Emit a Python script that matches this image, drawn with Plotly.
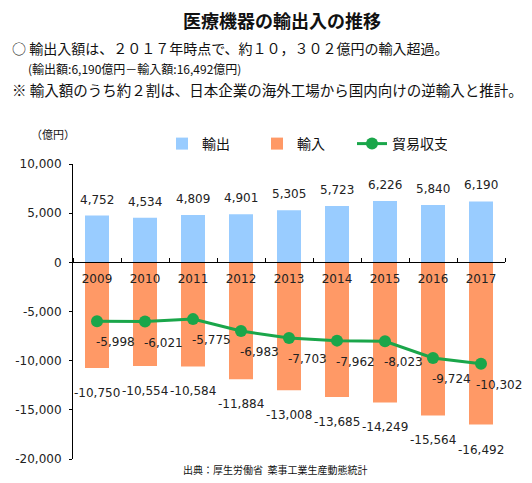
import plotly.graph_objects as go

years = ["2009", "2010", "2011", "2012", "2013", "2014", "2015", "2016", "2017"]
exports = [4752, 4534, 4809, 4901, 5305, 5723, 6226, 5840, 6190]
imports = [-10750, -10554, -10584, -11884, -13008, -13685, -14249, -15564, -16492]
balance = [-5998, -6021, -5775, -6983, -7703, -7962, -8023, -9724, -10302]
y_ticks = [10000, 5000, 0, -5000, -10000, -15000, -20000]

def fmt(v):
    return ("-" if v < 0 else "") + f"{abs(v):,}"

NUM_FONT = "DejaVu Sans"
JP_FONT = "Noto Sans CJK JP"

# page body has an 8px default margin; lay the figure out so it lands on the window
OFF = 8
W, H = 532 - OFF, 483 - OFF
L, R, T, B = 73 - OFF, W - (505 - OFF), 164 - OFF, H - (459 - OFF)
pw, ph = W - L - R, H - T - B

def px(x):  # window pixel -> paper fraction
    return (x - OFF - L) / pw

def py(y):
    return (H - B - (y - OFF)) / ph

xi = list(range(len(years)))
bounds = [i - 0.5 for i in range(len(years) + 1)]

fig = go.Figure()
fig.add_trace(go.Bar(x=xi, y=exports, name="輸出", marker_color="#99CCFF",
                     width=0.5, marker_line_width=0))
fig.add_trace(go.Bar(x=xi, y=imports, name="輸入", marker_color="#FF9966",
                     width=0.5, marker_line_width=0))
fig.add_trace(go.Scatter(x=xi, y=balance, name="貿易収支", mode="lines+markers",
                         line=dict(color="#1AA64A", width=3),
                         marker=dict(color="#1AA64A", size=12)))

ann = []
for i, v in zip(xi, exports):
    ann.append(dict(x=i, y=v, text=fmt(v), showarrow=False, yanchor="bottom",
                    yshift=7, font=dict(family=NUM_FONT, size=12, color="#222")))
for i, v in zip(xi, imports):
    ann.append(dict(x=i, y=v, text=fmt(v), showarrow=False, yanchor="middle",
                    yshift=-25, font=dict(family=NUM_FONT, size=12, color="#222")))
for i, v in zip(xi, balance):
    ann.append(dict(x=i, y=v, text=fmt(v), showarrow=False, yanchor="middle",
                    xshift=18, yshift=-21, font=dict(family=NUM_FONT, size=12, color="#222")))

# header texts
ann.append(dict(xref="paper", yref="paper", x=px(10), y=py(48), xanchor="left", yanchor="middle",
                text="○ 輸出入額は、２０１７年時点で、約１０，３０２億円の輸入超過。",
                showarrow=False, font=dict(family=JP_FONT, size=14, color="#111")))
ann.append(dict(xref="paper", yref="paper", x=px(26), y=py(69), xanchor="left", yanchor="middle",
                text="(輸出額:6,190億円－輸入額:16,492億円)",
                showarrow=False, font=dict(family=JP_FONT, size=12, color="#111")))
ann.append(dict(xref="paper", yref="paper", x=px(10), y=py(90), xanchor="left", yanchor="middle",
                text="※ 輸入額のうち約２割は、日本企業の海外工場から国内向けの逆輸入と推計。",
                showarrow=False, font=dict(family=JP_FONT, size=14.5, color="#111")))
ann.append(dict(xref="paper", yref="paper", x=px(29), y=py(134), xanchor="left", yanchor="middle",
                text="（億円）", showarrow=False, font=dict(family=JP_FONT, size=11, color="#111")))
ann.append(dict(xref="paper", yref="paper", x=px(275), y=py(469), xanchor="center", yanchor="middle",
                text="出典：厚生労働省  薬事工業生産動態統計",
                showarrow=False, font=dict(family=JP_FONT, size=10, color="#111")))

fig.update_layout(
    width=W, height=H,
    margin=dict(l=L, r=R, t=T, b=B, autoexpand=False),
    paper_bgcolor="white", plot_bgcolor="white",
    barmode="relative",
    title=dict(text="<b>医療機器の輸出入の推移</b>", x=(282 - OFF) / W, xanchor="center",
               y=1 - (22 - OFF) / H, yanchor="middle",
               font=dict(family=JP_FONT, size=18, color="#111")),
    showlegend=True,
    legend=dict(orientation="h", x=px(162), y=py(144), xanchor="left", yanchor="middle",
                entrywidth=50, font=dict(family=JP_FONT, size=14, color="#111"),
                bgcolor="rgba(0,0,0,0)", itemwidth=30),
    annotations=ann,
    xaxis=dict(range=[-0.5, len(years) - 0.5], anchor="free", position=2 / 3,
               tickvals=xi, ticktext=years, ticks="", automargin=False,
               ticklabelstandoff=5,
               minor=dict(tickvals=bounds, ticks="inside", ticklen=4, tickcolor="black",
                          showgrid=False),
               showline=True, linecolor="black", linewidth=1,
               tickfont=dict(family=NUM_FONT, size=12, color="#222"),
               showgrid=False, zeroline=False),
    yaxis=dict(range=[-20000, 10000], tickvals=y_ticks, ticktext=[fmt(v) for v in y_ticks],
               showline=True, linecolor="black", linewidth=1, automargin=False,
               ticks="outside", ticklen=3, tickcolor="black", ticklabelstandoff=5,
               tickfont=dict(family=NUM_FONT, size=12, color="#222"),
               showgrid=False, zeroline=False),
)

fig.write_html("out.html")
